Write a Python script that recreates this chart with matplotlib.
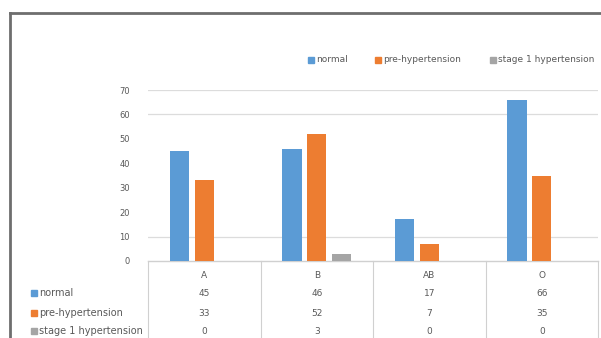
import matplotlib
matplotlib.use("Agg")
import matplotlib.pyplot as plt
from matplotlib.lines import Line2D
from matplotlib.patches import Rectangle
import matplotlib.transforms as mtransforms

categories = ["A", "B", "AB", "O"]
series_names = ["normal", "pre-hypertension", "stage 1 hypertension"]
normal = [45, 46, 17, 66]
pre_hypertension = [33, 52, 7, 35]
stage1_hypertension = [0, 3, 0, 0]
yticks = [0, 10, 20, 30, 40, 50, 60, 70]
visible_grid = [10, 60, 70]

colors = ["#5B9BD5", "#ED7D31", "#A5A5A5"]
text_color = "#595959"
W, H = 601, 338

fig = plt.figure(figsize=(W / 100, H / 100), dpi=100)
fig.patch.set_facecolor("white")

def fx(px):
    return px / W

def fy(py):
    return 1 - py / H

ax_left, ax_right, ax_bottom, ax_top = 148, 598, 261, 90
ax = fig.add_axes([fx(ax_left), fy(ax_bottom), fx(ax_right - ax_left), (ax_bottom - ax_top) / H])

series = [normal, pre_hypertension, stage1_hypertension]
offsets = [-0.22, 0.0, 0.22]
width = 0.17
x = list(range(len(categories)))
for vals, off, col in zip(series, offsets, colors):
    ax.bar([xi + off for xi in x], vals, width=width, color=col, zorder=3)

ax.set_xlim(-0.5, len(categories) - 0.5)
ax.set_ylim(0, 70)
ax.set_yticks(yticks)
ax.set_yticklabels([str(t) for t in yticks], fontsize=6, color=text_color)
ax.tick_params(axis="y", length=0, pad=13)
ax.set_xticks([])
for s in ax.spines.values():
    s.set_visible(False)
for g in visible_grid:
    ax.axhline(g, color="#dcdcdc", linewidth=0.9, zorder=0)

# data table
line_col = "#d0d0d0"
trans = mtransforms.blended_transform_factory(ax.transData, ax.transAxes)
ax_h = ax_bottom - ax_top

def ay(py):
    return (ax_bottom - py) / ax_h

ax.add_line(Line2D([-0.5, len(categories) - 0.5], [0, 0], transform=trans,
                   color=line_col, lw=1.0, clip_on=False))
for b in range(len(categories) + 1):
    xb = b - 0.5
    ax.add_line(Line2D([xb, xb], [0, ay(345)], transform=trans,
                       color=line_col, lw=0.8, clip_on=False))

row_y = [275, 293, 313, 331]
for i, c in enumerate(categories):
    ax.text(i, ay(row_y[0]), c, transform=trans, ha="center", va="center",
            fontsize=6.5, color=text_color, clip_on=False)
    for r, vals in enumerate(series):
        ax.text(i, ay(row_y[r + 1]), str(vals[i]), transform=trans, ha="center",
                va="center", fontsize=6.5, color=text_color, clip_on=False)

# row labels with keys
for r, (name, col) in enumerate(zip(series_names, colors)):
    yc = row_y[r + 1]
    fig.patches.append(Rectangle((fx(31), fy(yc + 3)), fx(6), 6 / H,
                                 transform=fig.transFigure, color=col))
    fig.text(fx(39), fy(yc), name, ha="left", va="center", fontsize=7,
             color=text_color)

# legend at top
leg_items = [(308, 316), (375, 383), (490, 498)]
for (sx, tx), name, col in zip(leg_items, series_names, colors):
    fig.patches.append(Rectangle((fx(sx), fy(63)), fx(6), 6 / H,
                                 transform=fig.transFigure, color=col))
    fig.text(fx(tx), fy(60), name, ha="left", va="center", fontsize=6.5,
             color=text_color)

# outer frame
frame_col = "#6e6e6e"
fig.add_artist(Line2D([fx(10), fx(10)], [fy(13), 0], transform=fig.transFigure,
                      color=frame_col, lw=2.0))
fig.add_artist(Line2D([fx(10), 1], [fy(13), fy(13)], transform=fig.transFigure,
                      color=frame_col, lw=2.0))

fig.savefig("out.png", dpi=100)
